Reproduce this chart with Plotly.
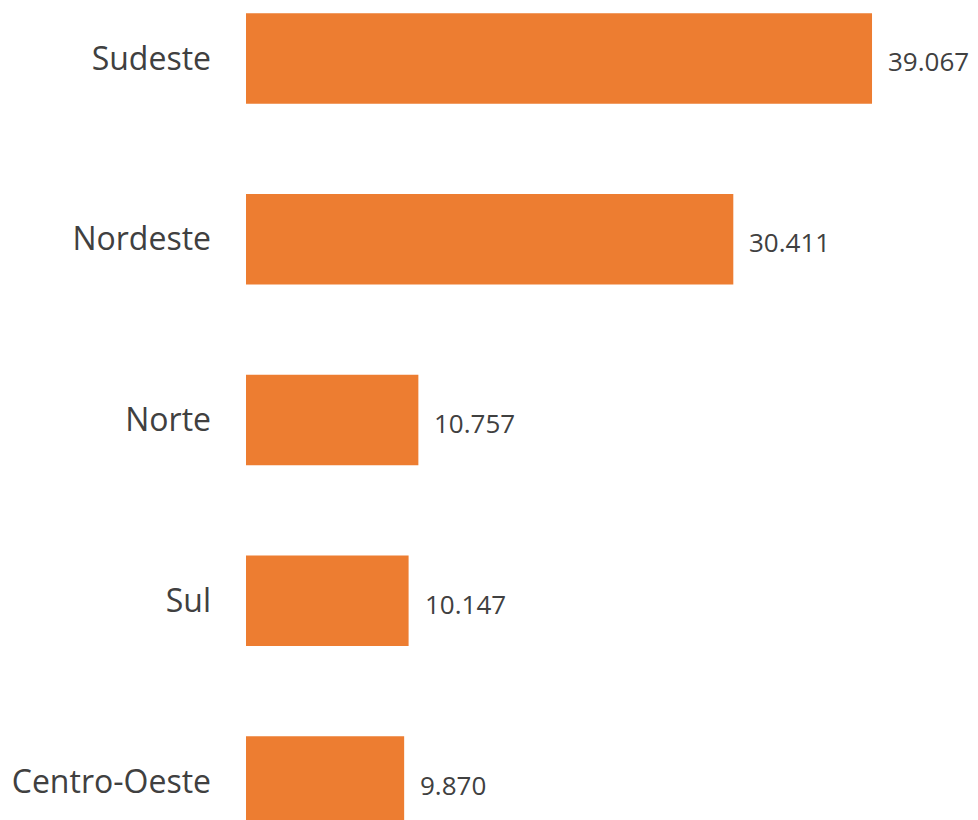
import plotly.graph_objects as go

regions = ["Sudeste", "Nordeste", "Norte", "Sul", "Centro-Oeste"]
values = [39067, 30411, 10757, 10147, 9870]
value_labels = [f"{v:,}".replace(",", ".") for v in values]

fig = go.Figure()
fig.add_trace(go.Bar(
    x=values,
    y=regions,
    orientation="h",
    marker=dict(color="#ED7D31", line=dict(width=0)),
    width=0.5,
    hoverinfo="skip",
))

for r, v, t in zip(regions, values, value_labels):
    fig.add_annotation(
        x=v, y=r, text=t, xref="x", yref="y",
        xanchor="left", yanchor="middle", showarrow=False,
        xshift=14, yshift=-3,
        font=dict(family="Open Sans", size=26, color="#404040"),
    )

fig.update_layout(
    width=970, height=812,
    margin=dict(l=238, r=0, t=0, b=0),
    paper_bgcolor="white", plot_bgcolor="white",
    showlegend=False,
    xaxis=dict(range=[0, 45681], visible=False, fixedrange=True),
    yaxis=dict(
        type="category",
        categoryorder="array", categoryarray=regions,
        range=[4.213, -0.279],
        showgrid=False, zeroline=False, showline=False,
        ticks="", ticklabelstandoff=34,
        tickfont=dict(family="Open Sans", size=32, color="#404040"),
    ),
)

fig.write_html("out.html")
